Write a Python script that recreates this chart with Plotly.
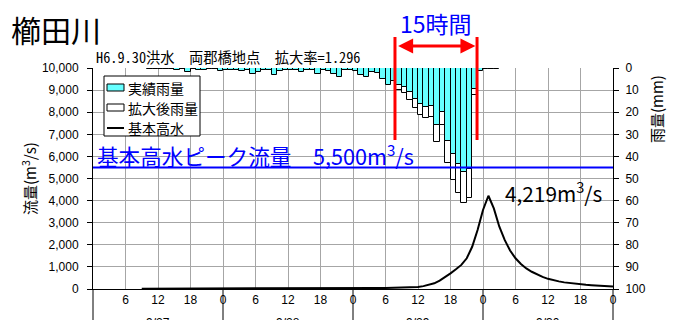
import plotly.graph_objects as go

# ---------------- data ----------------
# time axis: hours counted from 9/27 0:00
day_labels = ["9/27", "9/28", "9/29", "9/30"]
day_centers = [12, 36, 60, 84]
day_bounds = [0, 24, 48, 72, 96]
tick_hours = [6, 12, 18, 24, 30, 36, 42, 48, 54, 60, 66, 72, 78, 84, 90, 96]
tick_text = ["6", "12", "18", "0", "6", "12", "18", "0",
             "6", "12", "18", "0", "6", "12", "18", "0"]

# hourly observed rainfall (mm), first bar covers hour 10-11 of 9/27
rain_start_hour = 10
rain_actual = [0.3, 0.5, 0.3, 0.5, 0.5, 0.8, 0.5, 2.0, 0.5, 0.8,
               0.8, 0.5, 0.5, 1.5, 1.0, 0.8, 1.0, 1.2, 1.0, 2.7,
               2.0, 1.0, 1.0, 3.0, 1.5, 0.8, 1.0, 1.0, 2.0, 0.8,
               1.0, 2.7, 1.0, 1.2, 2.5, 3.9, 1.0, 1.0, 1.2, 3.0,
               3.9, 1.7, 2.4, 4.8, 7.7, 5.7, 7.7, 8.7, 11.0, 14.0,
               16.3, 17.5, 17.0, 26.0, 20.0, 33.0, 39.0, 43.5, 47.0, 45.5,
               9.5, 1.4, 0.6, 0.3, 0.3, 0.2]

# enlarged rainfall (x1.296) over the 15-hour design duration
enlarged_start_hour = 56
rain_enlarged = [10.0, 11.3, 14.3, 18.1, 21.1, 22.7, 22.0, 33.7, 25.9, 42.8,
                 50.5, 56.4, 60.9, 59.0, 12.3]

# basic design flood hydrograph (m3/s), first point at 9/27 9:00
flow_start_hour = 9
flow = [15, 15, 16, 17, 17, 18, 19, 19, 20, 21,
        22, 22, 23, 24, 25, 25, 26, 27, 28, 28,
        29, 30, 31, 31, 32, 33, 33, 34, 35, 35,
        36, 36, 37, 37, 38, 38, 39, 39, 40, 40,
        41, 42, 44, 46, 48, 50, 53, 56, 60, 66,
        75, 95, 130, 180, 256, 377, 530, 710, 890, 1090,
        1390, 1910, 2670, 3575, 4219, 3650, 2830, 2220, 1740, 1390,
        1130, 930, 780, 650, 550, 460, 395, 345, 300, 265,
        235, 210, 190, 170, 155, 140, 125, 110]

design_peak = 5500
ratio_text = "1.296"
duration_hours = 15
window_start = 55.75
window_end = 70.9

legend_labels = ["実績雨量", "拡大後雨量", "基本高水"]

# ---------------- geometry helpers ----------------
W, H = 675, 320          # browser window
OFF = 8                  # default page body margin
L, R, T, B = 93, 613, 68, 289   # plot area in window pixels


def pxx(x):
    return (x - L) / (R - L)


def pxy(y):
    return (B - y) / (B - T)


CJK = "Noto Sans CJK JP"
LAT = "Liberation Sans"
CYAN = "#66FFFF"
GRID = "#a6a6a6"

rain_x = [rain_start_hour + i + 0.5 for i in range(len(rain_actual))]
enl_x = [enlarged_start_hour + i + 0.5 for i in range(len(rain_enlarged))]
flow_x = [flow_start_hour + i for i in range(len(flow))]

fig = go.Figure()
fig.add_trace(go.Scatter(x=flow_x, y=flow, mode="lines", name=legend_labels[2],
                         line=dict(color="black", width=2), yaxis="y",
                         showlegend=False))
fig.add_trace(go.Bar(x=enl_x, y=rain_enlarged, name=legend_labels[1], yaxis="y2",
                     width=1, marker=dict(color="white", line=dict(color="black", width=1)),
                     showlegend=False))
fig.add_trace(go.Bar(x=rain_x, y=rain_actual, name=legend_labels[0], yaxis="y2",
                     width=1, marker=dict(color=CYAN, line=dict(color="black", width=1)),
                     showlegend=False))

shapes = []
shapes.append(dict(type="line", xref="paper", yref="y", x0=0, x1=1,
                   y0=design_peak, y1=design_peak, line=dict(color="#0000ff", width=2)))
for xv in (window_start, window_end):
    shapes.append(dict(type="line", xref="x", yref="paper", x0=xv, x1=xv,
                       y0=pxy(140), y1=pxy(37), line=dict(color="#ff0000", width=3)))
for d in day_bounds:
    shapes.append(dict(type="line", xref="paper", yref="paper", x0=d / 96, x1=d / 96,
                       y0=0, y1=-0.2, line=dict(color="black", width=1)))
shapes.append(dict(type="rect", xref="paper", yref="paper", x0=pxx(104), x1=pxx(200),
                   y0=pxy(136), y1=pxy(76), fillcolor="white",
                   line=dict(color="black", width=1), layer="above"))
shapes.append(dict(type="rect", xref="paper", yref="paper", x0=pxx(107), x1=pxx(124),
                   y0=pxy(91), y1=pxy(84), fillcolor=CYAN,
                   line=dict(color="black", width=1), layer="above"))
shapes.append(dict(type="rect", xref="paper", yref="paper", x0=pxx(107), x1=pxx(124),
                   y0=pxy(111), y1=pxy(104), fillcolor="white",
                   line=dict(color="black", width=1), layer="above"))
shapes.append(dict(type="line", xref="paper", yref="paper", x0=pxx(107), x1=pxx(124),
                   y0=pxy(128), y1=pxy(128), line=dict(color="black", width=2), layer="above"))

ann = []
ann.append(dict(text="櫛田川", xref="paper", yref="paper", x=pxx(9), y=pxy(29),
                xanchor="left", yanchor="middle", showarrow=False,
                font=dict(family=CJK, size=30, color="black")))
ann.append(dict(text=f"H6.9.30洪水　両郡橋地点　拡大率={ratio_text}", xref="paper", yref="paper",
                x=pxx(94), y=pxy(57), xanchor="left", yanchor="middle", showarrow=False,
                font=dict(family="Noto Sans Mono CJK JP, " + CJK, size=14.3, color="black")))
ann.append(dict(text=f"{duration_hours}時間", xref="paper", yref="paper", x=pxx(436), y=pxy(23),
                xanchor="center", yanchor="middle", showarrow=False,
                font=dict(family=CJK, size=23, color="#0000ff")))
ann.append(dict(text="", xref="x", yref="paper", x=70.6, y=pxy(46),
                axref="x", ayref="pixel", ax=56.05, ay=0, showarrow=True,
                arrowhead=2, startarrowhead=2, arrowside="end+start",
                arrowsize=1, startarrowsize=1, arrowwidth=3, arrowcolor="#ff0000",
                standoff=0, startstandoff=0))
ann.append(dict(text=f"基本高水ピーク流量　{design_peak:,}m<sup>3</sup>/s", xref="paper", yref="paper",
                x=pxx(95), y=pxy(154), xanchor="left", yanchor="middle", showarrow=False,
                font=dict(family=CJK, size=21.6, color="#0000ff")))
ann.append(dict(text=f"{max(flow):,}m<sup>3</sup>/s", xref="paper", yref="paper",
                x=pxx(503), y=pxy(192), xanchor="left", yanchor="middle", showarrow=False,
                font=dict(family=CJK, size=20.8, color="black")))
ann.append(dict(text="流量(m<sup>3</sup>/s)", xref="paper", yref="paper", x=pxx(29), y=pxy(179),
                xanchor="center", yanchor="middle", textangle=-90, showarrow=False,
                font=dict(family=CJK, size=15, color="black")))
ann.append(dict(text="雨量(mm)", xref="paper", yref="paper", x=pxx(656), y=pxy(109),
                xanchor="center", yanchor="middle", textangle=-90, showarrow=False,
                font=dict(family=CJK, size=15, color="black")))
for c, lab in zip(day_centers, day_labels):
    ann.append(dict(text=lab, xref="x", yref="paper", x=c, y=pxy(323),
                    xanchor="center", yanchor="middle", showarrow=False,
                    font=dict(family=LAT, size=12, color="black")))
for lab, yy in zip(legend_labels, (88, 108, 128)):
    ann.append(dict(text=lab, xref="paper", yref="paper", x=pxx(126), y=pxy(yy),
                    xanchor="left", yanchor="middle", showarrow=False,
                    font=dict(family=CJK, size=14, color="black")))

fig.update_layout(
    width=W - OFF, height=H - OFF,
    margin=dict(l=L - OFF, r=W - R, t=T - OFF, b=H - B, pad=0),
    paper_bgcolor="white", plot_bgcolor="white",
    barmode="overlay", bargap=0,
    showlegend=False,
    font=dict(family=LAT, size=12, color="black"),
    xaxis=dict(range=[0, 96], tickmode="array", tickvals=tick_hours, ticktext=tick_text,
               showgrid=True, gridcolor=GRID, gridwidth=1, showline=True,
               linecolor="black", linewidth=1, ticks="", zeroline=False,
               tickfont=dict(family=LAT, size=12, color="black")),
    yaxis=dict(range=[0, 10000], dtick=1000, tickformat=",", showgrid=True,
               gridcolor=GRID, gridwidth=1, showline=True, linecolor="black",
               linewidth=1, ticks="outside", ticklen=5, tickcolor="black",
               ticklabelstandoff=6, zeroline=False,
               tickfont=dict(family=LAT, size=12, color="black")),
    yaxis2=dict(range=[100, 0], dtick=10, overlaying="y", side="right", showgrid=False,
                showline=True, linecolor="black", linewidth=1, ticks="outside",
                ticklen=5, tickcolor="black", ticklabelstandoff=4, zeroline=False,
                tickfont=dict(family=LAT, size=12, color="black")),
    shapes=shapes,
    annotations=ann,
)

fig.write_html("out.html")
